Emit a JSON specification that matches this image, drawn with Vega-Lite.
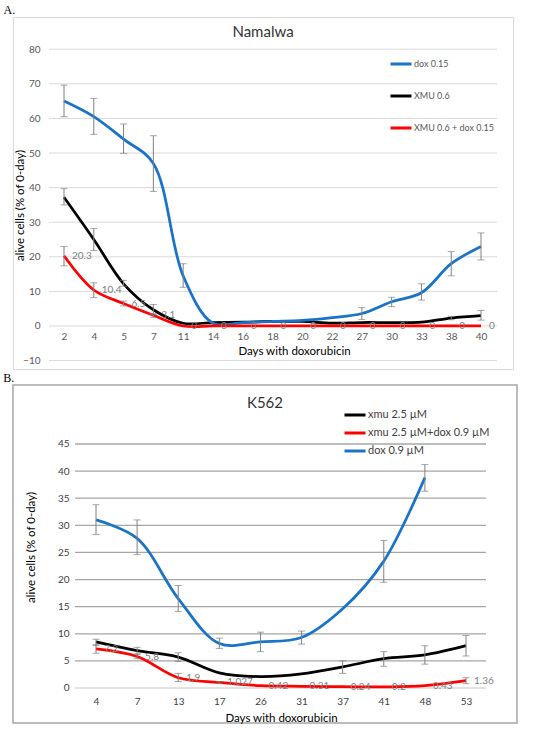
{
  "$schema": "https://vega.github.io/schema/vega-lite/v6.json",
  "background": "white",
  "padding": {"left": 3, "top": 3, "right": 0, "bottom": 0},
  "config": {
    "font": "Lato",
    "view": {"stroke": null},
    "concat": {"spacing": 2}
  },
  "resolve": {"scale": {"color": "independent"}, "legend": {"color": "independent"}},
  "vconcat": [
    {
      "title": {"text": "A.", "anchor": "start", "font": "Liberation Serif", "fontSize": 12, "fontWeight": "normal", "color": "#000000", "dx": -9, "offset": 0},
      "vconcat": [
        {
          "width": 500,
          "height": 352,
          "view": {"stroke": "#d9d9d9", "strokeWidth": 1},
          "title": {"text": "Namalwa", "offset": -30, "baseline": "middle", "fontSize": 15, "fontWeight": "normal", "color": "#333333"},
          "data": {
            "values": [
              {"day": 2, "s": "XMU 0.6", "v": 37.2, "lo": 35.0, "hi": 39.7},
              {"day": 4, "s": "XMU 0.6", "v": 25.0, "lo": 21.8, "hi": 28.2},
              {"day": 5, "s": "XMU 0.6", "v": 12.2, "lo": 11.5, "hi": 13.2},
              {"day": 7, "s": "XMU 0.6", "v": 4.7, "lo": 3.3, "hi": 6.2},
              {"day": 11, "s": "XMU 0.6", "v": 0.8},
              {"day": 14, "s": "XMU 0.6", "v": 1.0},
              {"day": 16, "s": "XMU 0.6", "v": 1.1},
              {"day": 18, "s": "XMU 0.6", "v": 1.3},
              {"day": 20, "s": "XMU 0.6", "v": 1.3},
              {"day": 22, "s": "XMU 0.6", "v": 0.8},
              {"day": 27, "s": "XMU 0.6", "v": 1.0},
              {"day": 30, "s": "XMU 0.6", "v": 1.0},
              {"day": 33, "s": "XMU 0.6", "v": 1.1},
              {"day": 38, "s": "XMU 0.6", "v": 2.3, "lo": 1.8, "hi": 2.8},
              {"day": 40, "s": "XMU 0.6", "v": 3.0, "lo": 1.7, "hi": 4.5},
              {"day": 2, "s": "dox 0.15", "v": 65.0, "lo": 60.5, "hi": 69.6},
              {"day": 4, "s": "dox 0.15", "v": 60.5, "lo": 55.4, "hi": 65.8},
              {"day": 5, "s": "dox 0.15", "v": 54.0, "lo": 49.9, "hi": 58.4},
              {"day": 7, "s": "dox 0.15", "v": 47.0, "lo": 38.9, "hi": 55.0},
              {"day": 11, "s": "dox 0.15", "v": 14.5, "lo": 11.2, "hi": 18.0},
              {"day": 14, "s": "dox 0.15", "v": 0.8},
              {"day": 16, "s": "dox 0.15", "v": 1.0},
              {"day": 18, "s": "dox 0.15", "v": 1.3},
              {"day": 20, "s": "dox 0.15", "v": 1.6},
              {"day": 22, "s": "dox 0.15", "v": 2.4},
              {"day": 27, "s": "dox 0.15", "v": 3.6, "lo": 1.9, "hi": 5.3},
              {"day": 30, "s": "dox 0.15", "v": 7.0, "lo": 5.6, "hi": 8.3},
              {"day": 33, "s": "dox 0.15", "v": 9.6, "lo": 7.5, "hi": 12.2},
              {"day": 38, "s": "dox 0.15", "v": 18.0, "lo": 14.5, "hi": 21.5},
              {"day": 40, "s": "dox 0.15", "v": 23.0, "lo": 19.1, "hi": 26.9},
              {"day": 2, "s": "XMU 0.6 + dox 0.15", "v": 20.3, "lo": 17.4, "hi": 23.0},
              {"day": 4, "s": "XMU 0.6 + dox 0.15", "v": 10.4, "lo": 8.2, "hi": 12.5},
              {"day": 5, "s": "XMU 0.6 + dox 0.15", "v": 6.5, "lo": 5.8, "hi": 7.2},
              {"day": 7, "s": "XMU 0.6 + dox 0.15", "v": 3.1, "lo": 2.5, "hi": 3.6},
              {"day": 11, "s": "XMU 0.6 + dox 0.15", "v": 0},
              {"day": 14, "s": "XMU 0.6 + dox 0.15", "v": 0},
              {"day": 16, "s": "XMU 0.6 + dox 0.15", "v": 0},
              {"day": 18, "s": "XMU 0.6 + dox 0.15", "v": 0},
              {"day": 20, "s": "XMU 0.6 + dox 0.15", "v": 0},
              {"day": 22, "s": "XMU 0.6 + dox 0.15", "v": 0},
              {"day": 27, "s": "XMU 0.6 + dox 0.15", "v": 0},
              {"day": 30, "s": "XMU 0.6 + dox 0.15", "v": 0},
              {"day": 33, "s": "XMU 0.6 + dox 0.15", "v": 0},
              {"day": 38, "s": "XMU 0.6 + dox 0.15", "v": 0},
              {"day": 40, "s": "XMU 0.6 + dox 0.15", "v": 0}
            ]
          },
          "encoding": {
            "x": {
              "field": "day",
              "type": "ordinal",
              "scale": {"type": "point", "range": [51, 468], "padding": 0},
              "axis": {"offset": -43, "domain": false, "ticks": false, "grid": false, "labelAngle": 0, "labelPadding": 5, "labelFontSize": 10, "labelColor": "#595959", "title": "Days with doxorubicin", "titleFontSize": 11.5, "titleFontWeight": "normal", "titleColor": "#000000", "titlePadding": 4, "titleX": 281}
            },
            "y": {
              "field": "v",
              "type": "quantitative",
              "scale": {"domain": [-12.43, 89.31], "nice": false, "zero": false},
              "axis": {"values": [-10, 0, 10, 20, 30, 40, 50, 60, 70, 80], "offset": -29, "domain": false, "ticks": false, "grid": false, "labelPadding": 2, "labelFontSize": 10, "labelColor": "#595959", "title": "alive cells (% of 0-day)", "titleFontSize": 11.5, "titleFontWeight": "normal", "titleColor": "#000000", "titlePadding": -3, "titleY": 188}
            }
          },
          "layer": [
            {
              "data": {"values": [{"g": -10}, {"g": 0}, {"g": 10}, {"g": 20}, {"g": 30}, {"g": 40}, {"g": 50}, {"g": 60}, {"g": 70}, {"g": 80}]},
              "mark": {"type": "rule", "color": "#d9d9d9", "strokeWidth": 1, "xOffset": -15, "x2Offset": 16},
              "encoding": {
                "x": {"datum": 2, "type": "ordinal"},
                "x2": {"datum": 40},
                "y": {"field": "g", "type": "quantitative"}
              }
            },
            {
              "mark": {"type": "line", "interpolate": "catmull-rom", "strokeWidth": 2.75},
              "encoding": {
                "color": {
                  "field": "s",
                  "type": "nominal",
                  "scale": {"domain": ["dox 0.15", "XMU 0.6", "XMU 0.6 + dox 0.15"], "range": ["#1a73c7", "#000000", "#ff0000"]},
                  "legend": {"orient": "none", "legendX": 376, "legendY": 35, "title": null, "padding": 0, "symbolType": "stroke", "symbolSize": 441, "symbolStrokeWidth": 3, "labelFontSize": 9, "labelColor": "#595959", "labelOffset": 1, "rowPadding": 14}
                }
              }
            },
            {
              "transform": [{"filter": "datum.lo != null"}],
              "mark": {"type": "rule", "color": "#808080", "strokeWidth": 1},
              "encoding": {"y": {"field": "lo", "type": "quantitative"}, "y2": {"field": "hi"}}
            },
            {
              "transform": [{"filter": "datum.lo != null"}],
              "mark": {"type": "tick", "color": "#808080", "size": 7, "thickness": 1},
              "encoding": {"y": {"field": "lo", "type": "quantitative"}}
            },
            {
              "transform": [{"filter": "datum.lo != null"}],
              "mark": {"type": "tick", "color": "#808080", "size": 7, "thickness": 1},
              "encoding": {"y": {"field": "hi", "type": "quantitative"}}
            },
            {
              "transform": [{"filter": "datum.s == 'XMU 0.6 + dox 0.15'"}],
              "mark": {"type": "text", "align": "left", "baseline": "middle", "dx": 8, "fontSize": 10, "color": "#808080"},
              "encoding": {"text": {"field": "v", "type": "nominal"}}
            }
          ]
        }
      ]
    },
    {
      "title": {"text": "B.", "anchor": "start", "font": "Liberation Serif", "fontSize": 12, "fontWeight": "normal", "color": "#000000", "dx": -9, "offset": -1},
      "vconcat": [
        {
          "width": 504,
          "height": 338,
          "view": {"stroke": "#a6a6a6", "strokeWidth": 1.5},
          "title": {"text": "K562", "offset": -33, "baseline": "middle", "fontSize": 15, "fontWeight": "normal", "color": "#333333"},
          "data": {
            "values": [
              {"day": 4, "s": "xmu 2.5 µM", "v": 8.5, "lo": 7.8, "hi": 9.0},
              {"day": 7, "s": "xmu 2.5 µM", "v": 6.9, "lo": 6.2, "hi": 7.5},
              {"day": 13, "s": "xmu 2.5 µM", "v": 5.7, "lo": 4.9, "hi": 6.5},
              {"day": 17, "s": "xmu 2.5 µM", "v": 2.8},
              {"day": 26, "s": "xmu 2.5 µM", "v": 2.1},
              {"day": 31, "s": "xmu 2.5 µM", "v": 2.6},
              {"day": 37, "s": "xmu 2.5 µM", "v": 3.9, "lo": 2.7, "hi": 5.0},
              {"day": 41, "s": "xmu 2.5 µM", "v": 5.4, "lo": 4.0, "hi": 6.7},
              {"day": 48, "s": "xmu 2.5 µM", "v": 6.1, "lo": 4.4, "hi": 7.8},
              {"day": 53, "s": "xmu 2.5 µM", "v": 7.8, "lo": 5.9, "hi": 9.7},
              {"day": 4, "s": "dox 0.9 µM", "v": 31.0, "lo": 28.3, "hi": 33.8},
              {"day": 7, "s": "dox 0.9 µM", "v": 27.6, "lo": 24.6, "hi": 31.0},
              {"day": 13, "s": "dox 0.9 µM", "v": 16.5, "lo": 14.1, "hi": 18.9},
              {"day": 17, "s": "dox 0.9 µM", "v": 8.2, "lo": 7.3, "hi": 9.2},
              {"day": 26, "s": "dox 0.9 µM", "v": 8.5, "lo": 6.7, "hi": 10.3},
              {"day": 31, "s": "dox 0.9 µM", "v": 9.3, "lo": 8.1, "hi": 10.5},
              {"day": 37, "s": "dox 0.9 µM", "v": 14.6},
              {"day": 41, "s": "dox 0.9 µM", "v": 23.4, "lo": 19.5, "hi": 27.2},
              {"day": 48, "s": "dox 0.9 µM", "v": 38.8, "lo": 36.3, "hi": 41.2},
              {"day": 4, "s": "xmu 2.5 µM+dox 0.9 µM", "v": 7.2, "lo": 6.4, "hi": 8.0},
              {"day": 7, "s": "xmu 2.5 µM+dox 0.9 µM", "v": 5.8, "lo": 5.4, "hi": 6.3},
              {"day": 13, "s": "xmu 2.5 µM+dox 0.9 µM", "v": 1.9, "lo": 1.2, "hi": 2.7},
              {"day": 17, "s": "xmu 2.5 µM+dox 0.9 µM", "v": 1.027, "lo": 0.8, "hi": 1.2},
              {"day": 26, "s": "xmu 2.5 µM+dox 0.9 µM", "v": 0.42},
              {"day": 31, "s": "xmu 2.5 µM+dox 0.9 µM", "v": 0.31},
              {"day": 37, "s": "xmu 2.5 µM+dox 0.9 µM", "v": 0.24},
              {"day": 41, "s": "xmu 2.5 µM+dox 0.9 µM", "v": 0.2},
              {"day": 48, "s": "xmu 2.5 µM+dox 0.9 µM", "v": 0.43},
              {"day": 53, "s": "xmu 2.5 µM+dox 0.9 µM", "v": 1.36, "lo": 0.8, "hi": 1.9}
            ]
          },
          "encoding": {
            "x": {
              "field": "day",
              "type": "ordinal",
              "scale": {"type": "point", "range": [83, 453], "padding": 0},
              "axis": {"offset": -35, "domain": false, "ticks": false, "grid": false, "labelAngle": 0, "labelPadding": 8, "labelFontSize": 10, "labelColor": "#404040", "title": "Days with doxorubicin", "titleFontSize": 11.5, "titleFontWeight": "normal", "titleColor": "#000000", "titlePadding": 6, "titleX": 268}
            },
            "y": {
              "field": "v",
              "type": "quantitative",
              "scale": {"domain": [-6.455, 55.88], "nice": false, "zero": false},
              "axis": {"values": [0, 5, 10, 15, 20, 25, 30, 35, 40, 45], "offset": -58, "domain": false, "ticks": false, "grid": false, "labelPadding": 2, "labelFontSize": 10, "labelColor": "#404040", "title": "alive cells (% of 0-day)", "titleFontSize": 11.5, "titleFontWeight": "normal", "titleColor": "#000000", "titlePadding": 21, "titleY": 162}
            }
          },
          "layer": [
            {
              "data": {"values": [{"g": 0}, {"g": 5}, {"g": 10}, {"g": 15}, {"g": 20}, {"g": 25}, {"g": 30}, {"g": 35}, {"g": 40}, {"g": 45}]},
              "mark": {"type": "rule", "strokeWidth": 1.3, "xOffset": -21, "x2Offset": 20},
              "encoding": {
                "x": {"datum": 4, "type": "ordinal"},
                "x2": {"datum": 53},
                "y": {"field": "g", "type": "quantitative"},
                "color": {"condition": {"test": "datum.g == 0", "value": "#d9d9d9"}, "value": "#a6a6a6"}
              }
            },
            {
              "mark": {"type": "line", "interpolate": "catmull-rom", "strokeWidth": 2.75},
              "encoding": {
                "color": {
                  "field": "s",
                  "type": "nominal",
                  "scale": {"domain": ["xmu 2.5 µM", "xmu 2.5 µM+dox 0.9 µM", "dox 0.9 µM"], "range": ["#000000", "#ff0000", "#1a73c7"]},
                  "legend": {"orient": "none", "legendX": 330, "legendY": 18, "title": null, "padding": 0, "symbolType": "stroke", "symbolSize": 441, "symbolStrokeWidth": 3, "labelFontSize": 11, "labelColor": "#404040", "labelOffset": 1, "rowPadding": -4}
                }
              }
            },
            {
              "transform": [{"filter": "datum.lo != null"}],
              "mark": {"type": "rule", "color": "#808080", "strokeWidth": 1},
              "encoding": {"y": {"field": "lo", "type": "quantitative"}, "y2": {"field": "hi"}}
            },
            {
              "transform": [{"filter": "datum.lo != null"}],
              "mark": {"type": "tick", "color": "#808080", "size": 7, "thickness": 1},
              "encoding": {"y": {"field": "lo", "type": "quantitative"}}
            },
            {
              "transform": [{"filter": "datum.lo != null"}],
              "mark": {"type": "tick", "color": "#808080", "size": 7, "thickness": 1},
              "encoding": {"y": {"field": "hi", "type": "quantitative"}}
            },
            {
              "transform": [{"filter": "datum.s == 'xmu 2.5 µM+dox 0.9 µM'"}],
              "mark": {"type": "text", "align": "left", "baseline": "middle", "dx": 8, "fontSize": 10, "color": "#808080"},
              "encoding": {"text": {"field": "v", "type": "nominal"}}
            }
          ]
        }
      ]
    }
  ]
}
